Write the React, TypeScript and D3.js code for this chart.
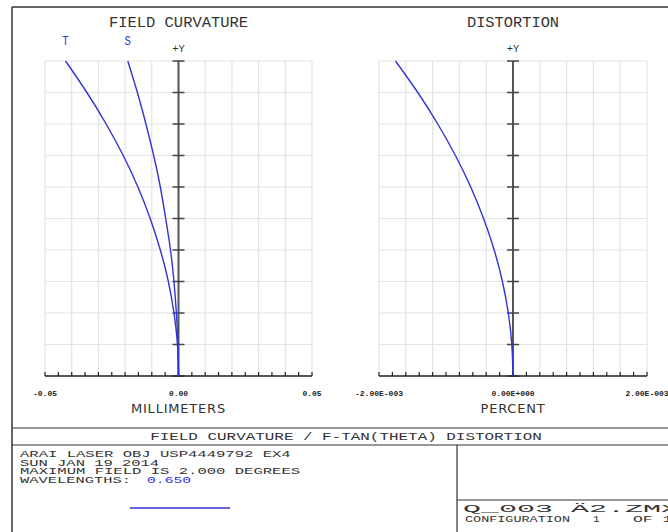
import React from 'react';
import * as d3 from 'd3';

// relative field (0 = axis, 1 = max field 2.000 deg)
const fields = [0, 0.1, 0.2, 0.3, 0.4, 0.5, 0.6, 0.7, 0.8, 0.9, 1.0];
// field curvature in millimeters
const tangential = [0, -0.0004, -0.0017, -0.0038, -0.0068, -0.0106, -0.0152, -0.0207, -0.0271, -0.0343, -0.0423];
const sagittal = [0, -0.0002, -0.0008, -0.0017, -0.003, -0.0048, -0.0068, -0.0093, -0.0122, -0.0154, -0.019];
// f-tan(theta) distortion in percent
const distortion = [0, -0.0000175, -0.00007, -0.000158, -0.000281, -0.000439, -0.000631, -0.000859, -0.001123, -0.001421, -0.001754];

const curvTicks = [-0.05, 0, 0.05];
const curvTickLabels = ['-0.05', '0.00', '0.05'];
const distTicks = [-0.002, 0, 0.002];
const distTickLabels = ['-2.00E-003', '0.00E+000', '2.00E-003'];

const infoLines = ['ARAI LASER OBJ USP4449792 EX4', 'SUN JAN 19 2014', 'MAXIMUM FIELD IS 2.000 DEGREES', 'WAVELENGTHS:'];
const wavelengths = ['0.650'];

const W = 668;
const H = 532;
const BLUE = '#3333d6';
const MONO = '"Liberation Mono", "DejaVu Sans Mono", monospace';

const y = d3.scaleLinear().domain([0, 1]).range([376, 61]);
const xCurv = d3.scaleLinear().domain([-0.05, 0.05]).range([45, 312]);
const xDist = d3.scaleLinear().domain([-0.002, 0.002]).range([379, 647]);

// stretched text that mimics the plotter stroke font
const SText = ({ x, y, text, pitch, size, anchor = 'start', fill = '#333' }: any) => (
  <text
    x={x}
    y={y}
    fontFamily={MONO}
    fontSize={size}
    fill={fill}
    textAnchor={anchor}
    textLength={text.length * pitch - pitch * 0.2}
    lengthAdjust="spacingAndGlyphs"
  >
    {text}
  </text>
);

const Panel = ({ x, title, xLabel, ticks, tickLabels, series }: any) => {
  const [x0, x1] = x.range();
  const xc = x(0);
  const gridX = d3.range(11).map((i) => x0 + ((x1 - x0) * i) / 10);
  const gridY = d3.range(11).map((i) => y(i / 10));
  const minor = d3.range(21).map((i) => x0 + ((x1 - x0) * i) / 20);
  const line = d3
    .line<number>()
    .x((d) => x(d))
    .y((_, i) => y(fields[i]))
    .curve(d3.curveNatural);

  return (
    <g>
      <SText x={(x0 + x1) / 2} y={27} text={title} pitch={9.4} size={14} anchor="middle" />
      <SText x={xc} y={52} text="+Y" pitch={7} size={11} anchor="middle" />
      {gridX.map((gx, i) => (
        <line key={'gx' + i} x1={gx} x2={gx} y1={y(1)} y2={y(0)} stroke="#e4e4e4" strokeWidth={1.2} />
      ))}
      {gridY.map((gy, i) => (
        <line key={'gy' + i} x1={x0} x2={x1} y1={gy} y2={gy} stroke="#e4e4e4" strokeWidth={1.2} />
      ))}
      {/* optical axis */}
      <line x1={xc} x2={xc} y1={y(1)} y2={y(0)} stroke="#555" strokeWidth={2} />
      {gridY.map((gy, i) => (
        <line key={'yt' + i} x1={xc - 6} x2={xc + 6} y1={gy} y2={gy} stroke="#444" strokeWidth={1.5} />
      ))}
      {/* bottom axis */}
      <line x1={x0} x2={x1} y1={y(0)} y2={y(0)} stroke="#222" strokeWidth={1.5} />
      {minor.map((mx, i) => (
        <line key={'mt' + i} x1={mx} x2={mx} y1={y(0)} y2={y(0) - 4} stroke="#222" strokeWidth={1.2} />
      ))}
      {ticks.map((t: number, i: number) => (
        <text
          key={'tl' + i}
          x={x(t)}
          y={396}
          fontFamily={MONO}
          fontSize={8}
          fontWeight="bold"
          fill="#222"
          textAnchor="middle"
          textLength={tickLabels[i].length * 4.8}
          lengthAdjust="spacingAndGlyphs"
        >
          {tickLabels[i]}
        </text>
      ))}
      <text
        x={(x0 + x1) / 2}
        y={413}
        fontFamily='"DejaVu Sans", sans-serif'
        fontSize={13}
        fill="#333"
        textAnchor="middle"
        letterSpacing={0.8}
      >
        {xLabel}
      </text>
      {series.map((s: number[], i: number) => (
        <path key={'s' + i} d={line(s) || ''} fill="none" stroke={BLUE} strokeWidth={1.4} />
      ))}
    </g>
  );
};

export default function App() {
  return (
    <div style={{ position: 'fixed', left: 0, top: 0, width: W, height: H, background: '#fff' }}>
      <svg width={W} height={H} style={{ display: 'block' }}>
        <rect x={0} y={0} width={W} height={H} fill="#fff" />
        {/* outer frame */}
        <line x1={12} x2={W} y1={7} y2={7} stroke="#333" strokeWidth={1.5} />
        <line x1={12} x2={12} y1={7} y2={H} stroke="#333" strokeWidth={1.5} />

        <Panel
          x={xCurv}
          title="FIELD CURVATURE"
          xLabel="MILLIMETERS"
          ticks={curvTicks}
          tickLabels={curvTickLabels}
          series={[tangential, sagittal]}
        />
        <Panel
          x={xDist}
          title="DISTORTION"
          xLabel="PERCENT"
          ticks={distTicks}
          tickLabels={distTickLabels}
          series={[distortion]}
        />
        <SText x={xCurv(tangential[10])} y={45} text="T" pitch={8} size={13} anchor="middle" fill={BLUE} />
        <SText x={xCurv(sagittal[10])} y={45} text="S" pitch={8} size={13} anchor="middle" fill={BLUE} />

        {/* title block */}
        <line x1={12} x2={W} y1={428} y2={428} stroke="#333" strokeWidth={1.2} />
        <line x1={12} x2={W} y1={445} y2={445} stroke="#333" strokeWidth={1.2} />
        <SText x={346} y={440} text="FIELD CURVATURE / F-TAN(THETA) DISTORTION" pitch={9.6} size={10} anchor="middle" />
        {infoLines.map((t, i) => (
          <SText key={'info' + i} x={20} y={457 + i * 8.7} text={t} pitch={9.4} size={8.5} />
        ))}
        <SText x={147} y={483} text={wavelengths[0]} pitch={9.2} size={8.5} fill={BLUE} />
        <line x1={130} x2={230} y1={508} y2={508} stroke={BLUE} strokeWidth={1.3} />

        <line x1={457} x2={457} y1={445} y2={H} stroke="#333" strokeWidth={1.2} />
        <line x1={457} x2={W} y1={500} y2={500} stroke="#333" strokeWidth={1.2} />
        <SText x={463} y={512} text="Q_003 Ä2.ZMX" pitch={18.3} size={11} />
        <SText x={465} y={522} text="CONFIGURATION" pitch={8.2} size={9} />
        <SText x={593} y={522} text="1" pitch={8.2} size={9} />
        <SText x={633} y={522} text="OF  1" pitch={8.2} size={9} />
      </svg>
    </div>
  );
}
